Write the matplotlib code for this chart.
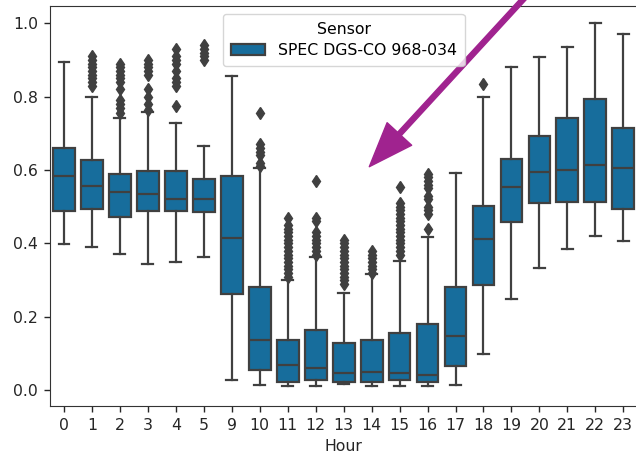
"""
Boxplot of normalised CO sensor readings by hour of day, with an annotation arrow.
"""
import matplotlib
matplotlib.use('Agg')
import matplotlib.pyplot as plt
import numpy as np

# Hour categories (6, 7, 8 are absent in the data)
hours = ['0', '1', '2', '3', '4', '5', '9', '10', '11', '12', '13', '14',
         '15', '16', '17', '18', '19', '20', '21', '22', '23']

# Box statistics
whis_lo = [0.399, 0.390, 0.371, 0.344, 0.350, 0.363, 0.029, 0.015, 0.012, 0.012, 0.017,
           0.012, 0.012, 0.012, 0.014, 0.099, 0.248, 0.332, 0.385, 0.420, 0.408]
q1 = [0.489, 0.494, 0.472, 0.489, 0.489, 0.485, 0.262, 0.055, 0.023, 0.028, 0.023,
      0.023, 0.028, 0.023, 0.067, 0.288, 0.458, 0.510, 0.514, 0.514, 0.493]
median = [0.584, 0.557, 0.540, 0.536, 0.521, 0.521, 0.416, 0.138, 0.069, 0.060, 0.048,
          0.051, 0.048, 0.042, 0.147, 0.412, 0.553, 0.596, 0.600, 0.614, 0.605]
q3 = [0.659, 0.627, 0.589, 0.597, 0.597, 0.576, 0.584, 0.281, 0.137, 0.164, 0.130,
      0.137, 0.155, 0.181, 0.281, 0.503, 0.629, 0.693, 0.741, 0.794, 0.715]
whis_hi = [0.894, 0.800, 0.742, 0.759, 0.729, 0.667, 0.856, 0.606, 0.300, 0.362, 0.266,
           0.316, 0.352, 0.417, 0.592, 0.800, 0.882, 0.909, 0.935, 1.002, 0.971]

# Outliers per hour
outliers = [
    [],
    [0.83, 0.84, 0.85, 0.86, 0.87, 0.88, 0.89, 0.90, 0.91],
    [0.755, 0.77, 0.78, 0.79, 0.82, 0.84, 0.85, 0.86, 0.87, 0.88, 0.89],
    [0.765, 0.78, 0.80, 0.82, 0.86, 0.87, 0.88, 0.89, 0.90],
    [0.775, 0.83, 0.84, 0.85, 0.87, 0.89, 0.90, 0.91, 0.93],
    [0.90, 0.91, 0.92, 0.93, 0.94],
    [],
    [0.61, 0.62, 0.64, 0.65, 0.66, 0.67, 0.755],
    [0.31, 0.32, 0.33, 0.34, 0.35, 0.36, 0.37, 0.38, 0.39, 0.40, 0.41, 0.42, 0.43,
     0.44, 0.45, 0.47],
    [0.37, 0.38, 0.39, 0.40, 0.41, 0.42, 0.43, 0.46, 0.47, 0.57],
    [0.29, 0.30, 0.31, 0.32, 0.33, 0.34, 0.35, 0.36, 0.37, 0.38, 0.39, 0.40, 0.41],
    [0.32, 0.33, 0.34, 0.35, 0.36, 0.37, 0.38],
    [0.37, 0.38, 0.39, 0.40, 0.41, 0.42, 0.43, 0.44, 0.45, 0.46, 0.47, 0.48, 0.49,
     0.50, 0.51, 0.555],
    [0.44, 0.48, 0.49, 0.50, 0.52, 0.53, 0.55, 0.56, 0.57, 0.58, 0.59],
    [],
    [0.834],
    [], [], [], [], [],
]

sensor_label = 'SPEC DGS-CO 968-034'

box_color = '#176d9c'
line_gray = '#404040'
arrow_color = '#a0238f'
lw = 1.6
fs = 11.3

fig = plt.figure(figsize=(6.36, 4.54), dpi=100)
ax = fig.add_axes([50 / 636, (454 - 405.7) / 454, (637.3 - 50) / 636, 400 / 454])

stats = []
for i, h in enumerate(hours):
    stats.append(dict(med=median[i], q1=q1[i], q3=q3[i], whislo=whis_lo[i],
                      whishi=whis_hi[i], fliers=np.array(outliers[i]), label=h))

positions = np.arange(len(hours))
ax.bxp(stats, positions=positions, widths=0.78, capwidths=0.39, patch_artist=True,
       boxprops=dict(facecolor=box_color, edgecolor=line_gray, linewidth=lw),
       medianprops=dict(color=line_gray, linewidth=lw),
       whiskerprops=dict(color=line_gray, linewidth=lw),
       capprops=dict(color=line_gray, linewidth=lw),
       flierprops=dict(marker='d', markerfacecolor=line_gray, markeredgecolor=line_gray,
                       markersize=6, linestyle='none'))

ax.set_xlim(-0.5, len(hours) - 0.5)
ax.set_ylim(-0.042, 1.048)
ax.set_xticks(positions)
ax.set_xticklabels(hours)
ax.set_yticks([0.0, 0.2, 0.4, 0.6, 0.8, 1.0])
ax.set_yticklabels(['0.0', '0.2', '0.4', '0.6', '0.8', '1.0'])
ax.tick_params(labelsize=fs, colors='#262626', length=4.5, width=1.0, pad=4)
for s in ax.spines.values():
    s.set_color('#333333')
ax.set_xlabel('Hour', fontsize=fs, color='#262626', labelpad=5)

# Legend
handle = plt.Rectangle((0, 0), 1, 1, facecolor=box_color, edgecolor=line_gray, linewidth=lw)
leg = ax.legend([handle], [sensor_label], title='Sensor', loc='upper center',
                bbox_to_anchor=(0.5, 0.979), borderaxespad=0., fontsize=fs,
                title_fontsize=fs, handlelength=2.2, borderpad=0.5, labelspacing=0.4)

# Annotation arrow pointing at the midday dip
ax.annotate('', xy=(0.5437, 0.5975), xytext=(0.8207, 1.04), xycoords='axes fraction',
            textcoords='axes fraction', annotation_clip=False,
            arrowprops=dict(arrowstyle='simple,head_length=32,head_width=24,tail_width=3.6',
                            mutation_scale=1, color=arrow_color, shrinkA=0, shrinkB=0))

plt.savefig('out.png', dpi=100)
plt.close()
